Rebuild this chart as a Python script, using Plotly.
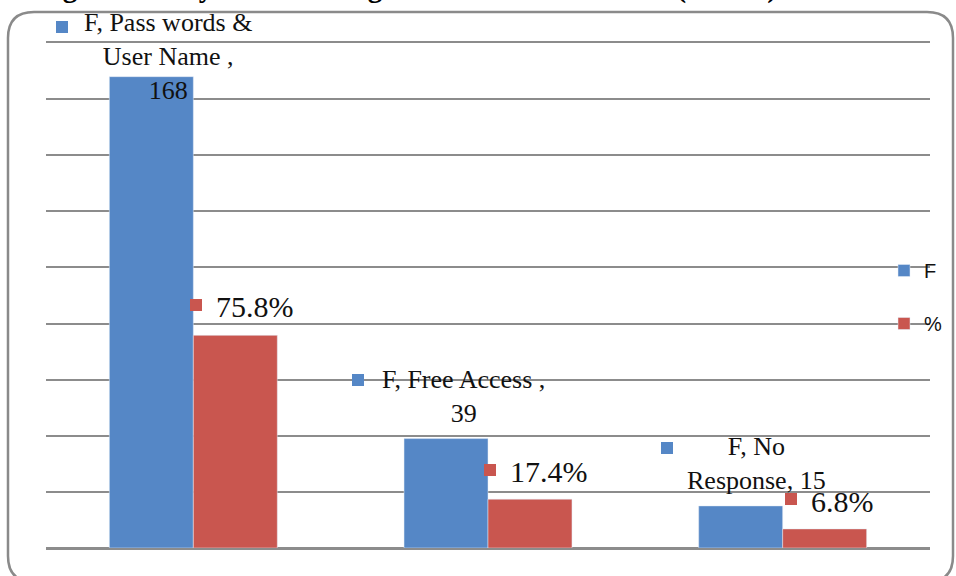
import plotly.graph_objects as go

# Ways of accessing resources: frequency (F) and share (%)
categories = ["Pass words & User Name", "Free Access", "No Response"]
freq = [168, 39, 15]
pct = [75.8, 17.4, 6.8]
series_names = ["F", "%"]
blue_label_fmt = [
    "F, Pass words &<br>User Name ,<br>{v}",
    "F, Free Access ,<br>{v}",
    "F, No<br>Response, {v}",
]

BLUE = "#5587C6"
RED = "#C9564F"
GRID = "#8C8C8C"
SERIF = "Liberation Serif, Times New Roman, serif"
SANS = "Liberation Sans, Arial, sans-serif"

W, H = 956, 576
ML, MR, MT, MB = 46, 26, 43, 28
PW, PH = W - ML - MR, H - MT - MB

xs = list(range(len(categories)))

fig = go.Figure()
fig.add_trace(go.Bar(x=xs, y=freq, name=series_names[0], marker_color=BLUE,
                     legendgroup="f", customdata=categories,
                     hovertemplate="%{customdata}: %{y}<extra>F</extra>"))
fig.add_trace(go.Bar(x=xs, y=pct, name=series_names[1], marker_color=RED,
                     legendgroup="p", customdata=categories,
                     hovertemplate="%{customdata}: %{y}%<extra>%</extra>"))

# label placement offsets (pixels) relative to each bar's category centre and top
blue_text_off = [(-25, 20), (-25, 42), (-26, 42)]
blue_key_off = [(-131, 50), (-130, 59), (-116, 58)]
red_text_off = [(62, 29), (61, 28), (60, 27)]
red_key_off = [(3, 30), (2, 29), (8, 30)]

annotations = []


def key_box(x, y, off, color):
    return dict(x=x, y=y, xref="x", yref="y", text=" ", showarrow=False,
                xshift=off[0], yshift=off[1], xanchor="center",
                yanchor="middle", width=12, height=12, bgcolor=color,
                borderpad=0, borderwidth=0, font=dict(size=8))


for i, x in enumerate(xs):
    dx, dy = blue_text_off[i]
    annotations.append(dict(x=x, y=freq[i], xref="x", yref="y",
                            text=blue_label_fmt[i].format(v=freq[i]),
                            showarrow=False, xshift=dx, yshift=dy,
                            xanchor="center", yanchor="middle",
                            font=dict(family=SERIF, size=26, color="#111")))
    annotations.append(key_box(x, freq[i], blue_key_off[i], BLUE))
    dx, dy = red_text_off[i]
    annotations.append(dict(x=x, y=pct[i], xref="x", yref="y",
                            text=f"{pct[i]}%", showarrow=False,
                            xshift=dx, yshift=dy, xanchor="center",
                            yanchor="middle",
                            font=dict(family=SERIF, size=30, color="#111")))
    annotations.append(key_box(x, pct[i], red_key_off[i], RED))


def px(xp, yp):
    """pixel position -> paper coordinates"""
    return (xp - ML) / PW, (MT + PH - yp) / PH


def frame_path(x0, y0, x1, y1, r):
    pts = [
        ("M", (x0, y0 + r)),
        ("Q", (x0, y0), (x0 + r, y0)),
        ("L", (x1 - r, y0)),
        ("Q", (x1, y0), (x1, y0 + r)),
        ("L", (x1, y1 - r)),
        ("Q", (x1, y1), (x1 - r, y1)),
        ("L", (x0 + r, y1)),
        ("Q", (x0, y1), (x0, y1 - r)),
    ]
    out = []
    for cmd, *ps in pts:
        coords = " ".join("{:.5f},{:.5f}".format(*px(*p)) for p in ps)
        out.append(f"{cmd}{coords}")
    return " ".join(out) + " Z"


shapes = [dict(type="path", xref="paper", yref="paper",
               path=frame_path(8, 12, 953, 582, 26),
               line=dict(color="#8A8A8A", width=2.5), layer="below")]

# caption sitting above the chart box
tx, ty = px(779, 6)
annotations.append(dict(xref="paper", yref="paper", x=tx, y=ty,
                        xanchor="right", yanchor="bottom", showarrow=False,
                        text=f"<b>Figure 6: Ways of Accessing Resources in Libraries (N={sum(freq)})</b>",
                        font=dict(family=SERIF, size=29, color="#000")))

lx, ly = px(884, 251)
fig.update_layout(
    width=W, height=H,
    margin=dict(l=ML, r=MR, t=MT, b=MB, pad=0, autoexpand=False),
    paper_bgcolor="white", plot_bgcolor="white",
    barmode="group", bargap=0.43, bargroupgap=0,
    showlegend=True,
    legend=dict(x=lx, y=ly, xanchor="left", yanchor="top",
                bgcolor="rgba(0,0,0,0)", traceorder="grouped",
                tracegroupgap=24,
                font=dict(family=SANS, size=20, color="#111")),
    xaxis=dict(range=[-0.5, 2.5], showticklabels=False, ticks="",
               showgrid=False, zeroline=False, showline=True, mirror=True,
               linecolor=GRID, linewidth=2, fixedrange=True),
    yaxis=dict(range=[0, 180], dtick=20, showticklabels=False, ticks="",
               showgrid=True, gridcolor=GRID, gridwidth=2,
               zeroline=True, zerolinecolor=GRID, zerolinewidth=2,
               showline=False, fixedrange=True),
    annotations=annotations,
    shapes=shapes,
)

fig.write_html("out.html")
